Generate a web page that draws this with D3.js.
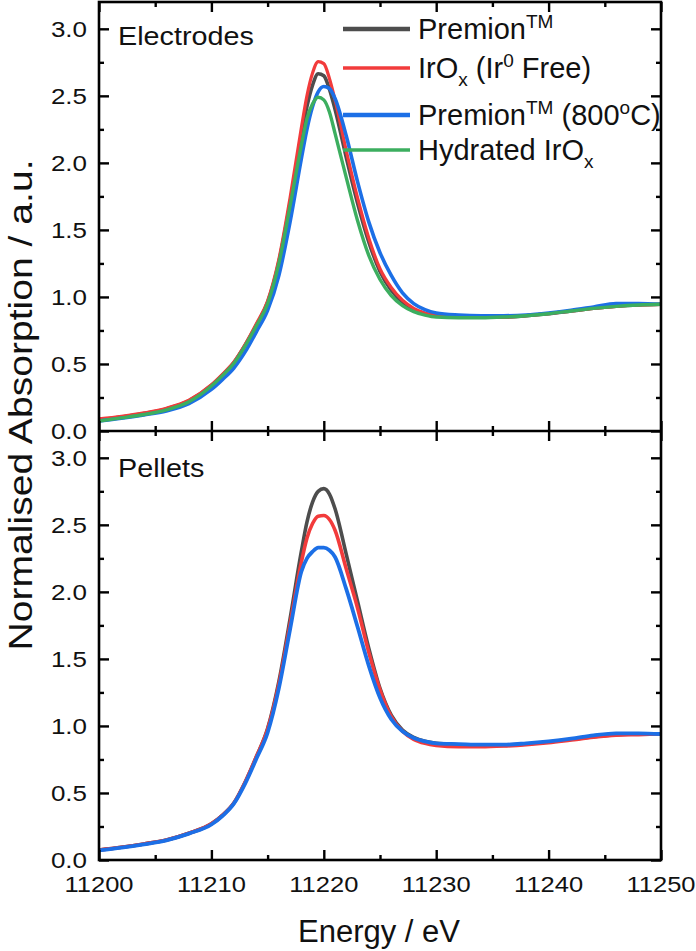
<!DOCTYPE html>
<html><head><meta charset="utf-8">
<script src="https://cdn.jsdelivr.net/npm/d3@7"></script>
<style>body{margin:0;background:#fff}svg{display:block}text{font-family:"Liberation Sans",Arial,sans-serif;fill:#111}</style>
</head><body><svg id="c" width="696" height="951"></svg>
<script>
// Energy grid (eV)
const energy = [11200,11202,11204,11206,11208,11210,11211,11212,11213,11214,11215,11216,11217,11218,11218.5,11219,11219.5,11220,11220.5,11221,11222,11223,11224,11225,11226,11227,11228,11229,11230,11232,11234,11236,11238,11240,11242,11244,11246,11248,11250];

// Electrodes (top panel)
const topPremion  = [.085,.105,.13,.165,.225,.34,.42,.51,.64,.79,.96,1.26,1.70,2.20,2.42,2.58,2.665,2.65,2.55,2.40,2.04,1.70,1.41,1.19,1.05,.96,.905,.875,.86,.85,.85,.85,.86,.875,.895,.915,.93,.94,.945];
const topIrOx     = [.09,.11,.135,.17,.23,.345,.425,.515,.645,.80,.97,1.28,1.74,2.26,2.50,2.67,2.755,2.74,2.63,2.47,2.09,1.74,1.44,1.21,1.07,.975,.915,.88,.86,.85,.85,.85,.86,.875,.895,.915,.93,.94,.945];
const topPrem800  = [.075,.095,.12,.15,.205,.31,.385,.47,.59,.74,.90,1.16,1.56,2.03,2.25,2.42,2.53,2.57,2.555,2.48,2.20,1.86,1.56,1.33,1.16,1.03,.95,.905,.88,.865,.86,.86,.865,.88,.90,.925,.95,.95,.945];
const topHydrated = [.075,.098,.123,.158,.218,.335,.415,.505,.635,.785,.95,1.25,1.68,2.13,2.33,2.44,2.49,2.47,2.38,2.22,1.89,1.57,1.31,1.13,1.01,.935,.89,.865,.85,.845,.845,.85,.86,.875,.895,.915,.93,.94,.945];

// Pellets (bottom panel)
const botPremion = [.075,.095,.12,.15,.20,.27,.335,.425,.58,.77,.98,1.33,1.80,2.30,2.52,2.67,2.75,2.77,2.73,2.62,2.28,1.93,1.58,1.28,1.08,.97,.915,.885,.87,.86,.855,.855,.865,.88,.90,.92,.935,.94,.94];
const botIrOx    = [.075,.095,.12,.15,.20,.27,.335,.425,.58,.77,.975,1.31,1.76,2.22,2.40,2.51,2.565,2.57,2.54,2.46,2.17,1.88,1.55,1.27,1.07,.96,.90,.87,.855,.845,.845,.85,.86,.875,.895,.915,.93,.935,.94];
const botPrem800 = [.072,.092,.117,.147,.197,.265,.33,.42,.57,.755,.95,1.28,1.72,2.15,2.25,2.30,2.33,2.33,2.31,2.26,2.02,1.74,1.45,1.21,1.05,.96,.91,.885,.87,.865,.86,.86,.87,.885,.905,.93,.945,.945,.94];

const xTicksMajor = [11200,11210,11220,11230,11240,11250];
const xTicksMinor = [11205,11215,11225,11235,11245];
const yTicksMajor = [0,0.5,1.0,1.5,2.0,2.5,3.0];
const yTicksMinor = [0.25,0.75,1.25,1.75,2.25,2.75];

const colors = {gray:"#4d4d4d", red:"#f23b3b", blue:"#1c6fe6", green:"#3cae5f"};

const svg = d3.select("#c");
const L=99,R=661,T=2,M=431,B=860;
const x = d3.scaleLinear().domain([11200,11250]).range([L,R]);
const yTop = d3.scaleLinear().domain([0,3.2]).range([M,T]);
const yBot = d3.scaleLinear().domain([0,3.2]).range([B,M]);

function line(y){ return d3.line().x((d,i)=>x(energy[i])).y(d=>y(d)).curve(d3.curveMonotoneX); }

// curves
const topSeries = [[topPremion,colors.gray,3.6],[topIrOx,colors.red,3.2],[topPrem800,colors.blue,3.6],[topHydrated,colors.green,3.4]];
const botSeries = [[botPremion,colors.gray,3.6],[botIrOx,colors.red,3.6],[botPrem800,colors.blue,3.8]];
const gTop = svg.append("g"), gBot = svg.append("g");
topSeries.forEach(([d,c,w])=>gTop.append("path").attr("d",line(yTop)(d)).attr("fill","none").attr("stroke",c).attr("stroke-width",w).attr("stroke-linejoin","round"));
botSeries.forEach(([d,c,w])=>gBot.append("path").attr("d",line(yBot)(d)).attr("fill","none").attr("stroke",c).attr("stroke-width",w).attr("stroke-linejoin","round"));

// ticks via d3 axes (inward)
function axis(gen, tr, vals, size){
  const g = svg.append("g").attr("transform",tr).call(gen.tickValues(vals).tickSize(size).tickSizeOuter(0).tickFormat(""));
  g.select(".domain").remove();
  g.selectAll("line").attr("stroke","#000").attr("stroke-width",2.4);
}
[[yTop,T,M],[yBot,M,B]].forEach(([y])=>{
  axis(d3.axisLeft(y),`translate(${L},0)`,yTicksMajor,-10);
  axis(d3.axisLeft(y),`translate(${L},0)`,yTicksMinor,-5);
  axis(d3.axisRight(y),`translate(${R},0)`,yTicksMajor,-10);
  axis(d3.axisRight(y),`translate(${R},0)`,yTicksMinor,-5);
});
// x ticks: top frame, divider (both sides), bottom
axis(d3.axisTop(x),`translate(0,${T})`,xTicksMajor,-10);
axis(d3.axisTop(x),`translate(0,${T})`,xTicksMinor,-5);
axis(d3.axisBottom(x),`translate(0,${M})`,xTicksMajor,-10);
axis(d3.axisBottom(x),`translate(0,${M})`,xTicksMinor,-5);
axis(d3.axisTop(x),`translate(0,${M})`,xTicksMajor,-10);
axis(d3.axisTop(x),`translate(0,${M})`,xTicksMinor,-5);
axis(d3.axisBottom(x),`translate(0,${B})`,xTicksMajor,-10);
axis(d3.axisBottom(x),`translate(0,${B})`,xTicksMinor,-5);

// frame
svg.append("rect").attr("x",L).attr("y",T).attr("width",R-L).attr("height",B-T).attr("fill","none").attr("stroke","#000").attr("stroke-width",2.6);
svg.append("line").attr("x1",L).attr("x2",R).attr("y1",M).attr("y2",M).attr("stroke","#000").attr("stroke-width",2.6);

// tick labels
[yTop,yBot].forEach(y=>{
  yTicksMajor.forEach(v=>svg.append("text").attr("transform",`translate(87,${y(v)+7.8}) scale(1.18,1)`).attr("text-anchor","end").attr("font-size",22).text(v.toFixed(1)));
});
xTicksMajor.forEach(v=>svg.append("text").attr("transform",`translate(${x(v)},892) scale(1.16,1)`).attr("text-anchor","middle").attr("font-size",22).text(v));

// panel labels
svg.append("text").attr("transform","translate(118,45) scale(1.15,1)").attr("font-size",25).text("Electrodes");
svg.append("text").attr("transform","translate(118,477) scale(1.15,1)").attr("font-size",25).text("Pellets");

// axis titles
svg.append("text").attr("transform","translate(32,405) rotate(-90) scale(1.15,1)").attr("text-anchor","middle").attr("font-size",34).text("Normalised Absorption / a.u.");
svg.append("text").attr("transform","translate(379,942)").attr("text-anchor","middle").attr("font-size",31).text("Energy / eV");

// legend
const legend = [
  {c:colors.gray,w:4.5,y:29,parts:[["Premion",0],["TM",-1]]},
  {c:colors.red,w:3.6,y:68,parts:[["IrO",0],["x",1],[" (Ir",0],["0",-1],[" Free)",0]]},
  {c:colors.blue,w:4.5,y:115,parts:[["Premion",0],["TM",-1],[" (800",0],["o",-1],["C)",0]]},
  {c:colors.green,w:3.6,y:150,parts:[["Hydrated IrO",0],["x",1]]}
];
legend.forEach(it=>{
  svg.append("line").attr("x1",343).attr("x2",410).attr("y1",it.y).attr("y2",it.y).attr("stroke",it.c).attr("stroke-width",it.w);
  const t = svg.append("text").attr("x",418).attr("y",it.y+10).attr("font-size",29);
  let cur=0;
  it.parts.forEach(([s,k])=>{
    const target = k===-1?-11:(k===1?8:0);
    const ts = t.append("tspan").attr("dy",target-cur).text(s);
    if(k!==0) ts.attr("font-size",19);
    cur=target;
  });
});
</script></body></html>
